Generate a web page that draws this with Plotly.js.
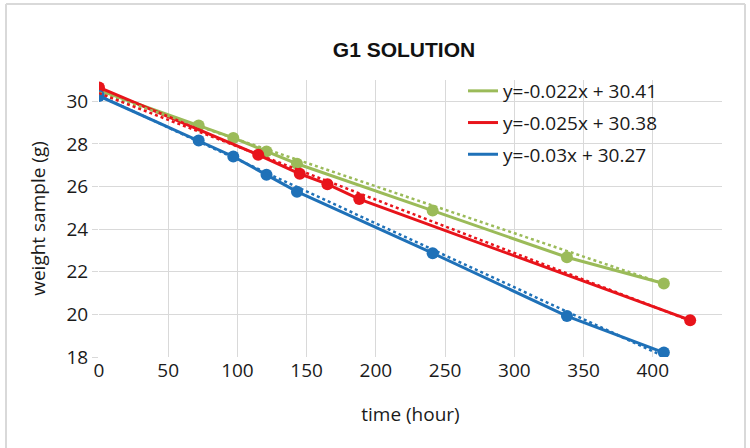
<!DOCTYPE html>
<html>
<head>
<meta charset="utf-8">
<script src="https://cdn.plot.ly/plotly-3.0.1.min.js"></script>
<style>html,body{margin:0;padding:0;background:#fff;}#chart{width:750px;height:448px;}</style>
</head>
<body>
<div id="chart"></div>
<script>
// --- data ---
const timeGreen   = [0, 72, 97, 121, 143, 241, 338, 408];
const weightGreen = [30.52, 28.86, 28.28, 27.65, 27.07, 24.87, 22.68, 21.45];
const timeRed     = [0, 115, 145, 165, 188, 427];
const weightRed   = [30.65, 27.49, 26.60, 26.11, 25.41, 19.73];
const timeBlue    = [0, 72, 97, 121, 143, 241, 338, 408];
const weightBlue  = [30.25, 28.16, 27.41, 26.55, 25.76, 22.87, 19.92, 18.21];

const slopes     = [-0.022, -0.025, -0.03];
const intercepts = [30.41, 30.38, 30.27];
const legendLabels = ['y=-0.022x + 30.41', 'y=-0.025x + 30.38', 'y=-0.03x + 30.27'];

const xTickVals  = [0, 50, 100, 150, 200, 250, 300, 350, 400, 450];
const xTickText  = ['0', '50', '100', '150', '200', '250', '300', '350', '400', ''];
const yTickVals  = [18, 20, 22, 24, 26, 28, 30];

const colors = ['#9BBB59', '#E8141B', '#1F71B8'];
const series = [
  {t: timeGreen, w: weightGreen},
  {t: timeRed,   w: weightRed},
  {t: timeBlue,  w: weightBlue}
];

const traces = [];
series.forEach((s, i) => {
  traces.push({
    x: s.t, y: s.w, mode: 'lines+markers', type: 'scatter', showlegend: false,
    line: {color: colors[i], width: 3},
    marker: {color: colors[i], size: 12},
    hoverinfo: 'skip'
  });
});
series.forEach((s, i) => {
  const tx = [s.t[0], s.t[s.t.length - 1]];
  traces.push({
    x: tx, y: tx.map(v => slopes[i] * v + intercepts[i]),
    mode: 'lines', type: 'scatter', showlegend: false,
    line: {color: colors[i], width: 2.5, dash: 'dot'},
    hoverinfo: 'skip'
  });
});
legendLabels.forEach((lab, i) => {
  traces.push({
    x: [null], y: [null], mode: 'lines', type: 'scatter', name: lab,
    legendgroup: 'g' + i,
    line: {color: colors[i], width: 3}
  });
});

const L = 99, R = 28, T = 80, B = 91;
const pw = 750 - L - R, ph = 448 - T - B;
const px = v => (v - L) / pw;
const py = v => (448 - B - v) / ph;

const layout = {
  width: 750, height: 448,
  margin: {l: L, r: R, t: T, b: B, pad: 0},
  paper_bgcolor: '#ffffff', plot_bgcolor: '#ffffff',
  font: {family: 'Open Sans, sans-serif', color: '#1a1a1a', size: 19},
  title: {text: 'G1 SOLUTION', font: {family: 'Liberation Sans, Arial, sans-serif', size: 21, color: '#111', weight: 'bold'},
          x: px(404), xref: 'paper', xanchor: 'center', y: 1 - 50/448, yanchor: 'middle'},
  xaxis: {
    range: [0, 450], tickvals: xTickVals, ticktext: xTickText,
    showgrid: true, gridcolor: '#d9d9d9', gridwidth: 1,
    zeroline: false, showline: false, ticks: '', fixedrange: true,
    tickfont: {size: 19},
    title: {text: 'time (hour)', font: {size: 19}, standoff: 25}
  },
  yaxis: {
    range: [18, 31], tickvals: yTickVals,
    showgrid: true, gridcolor: '#d9d9d9', gridwidth: 1,
    zeroline: false, showline: false, ticks: 'outside', ticklen: 6, tickcolor: '#d9d9d9',
    tickfont: {size: 19},
    title: {text: 'weight sample (g)', font: {size: 19}, standoff: 15}
  },
  legend: {
    x: px(463), y: py(72), xanchor: 'left', yanchor: 'top',
    bgcolor: 'rgba(0,0,0,0)', font: {size: 19}, itemwidth: 30, tracegroupgap: 4
  },
  shapes: [
    {type: 'line', xref: 'paper', yref: 'paper', x0: px(6), x1: px(6), y0: py(4), y1: py(460), line: {color: '#d9d9d9', width: 2}},
    {type: 'line', xref: 'paper', yref: 'paper', x0: px(6), x1: px(745), y0: py(4), y1: py(4), line: {color: '#d9d9d9', width: 2}},
    {type: 'line', xref: 'paper', yref: 'paper', x0: px(745), x1: px(745), y0: py(4), y1: py(460), line: {color: '#d9d9d9', width: 2}}
  ]
};

Plotly.newPlot('chart', traces, layout, {displayModeBar: false, staticPlot: true});
</script>
</body>
</html>
